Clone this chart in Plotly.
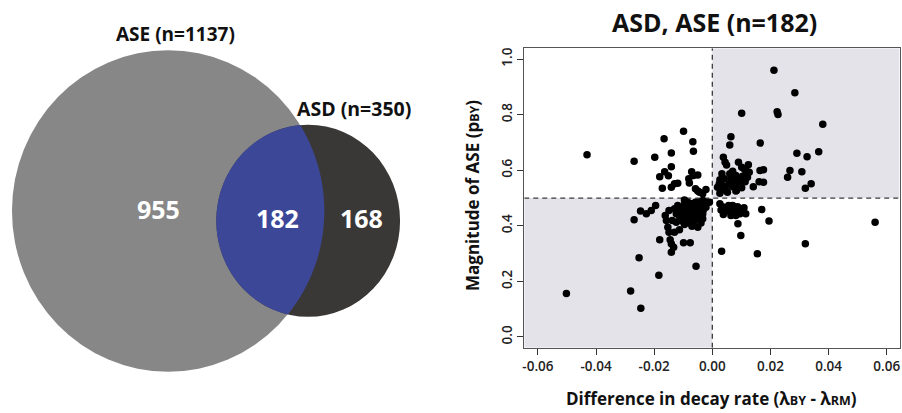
import numpy as np
import plotly.graph_objects as go

# ---------------- DATA ----------------
venn_set_labels = ["ASE (n=1137)", "ASD (n=350)"]
venn_region_counts = [955, 182, 168]   # ASE only, both, ASD only

scatter_title = "ASD, ASE (n=182)"
x_tick_vals = [-0.06, -0.04, -0.02, 0.00, 0.02, 0.04, 0.06]
x_tick_text = ["-0.06", "-0.04", "-0.02", "0.00", "0.02", "0.04", "0.06"]
y_tick_vals = [0.0, 0.2, 0.4, 0.6, 0.8, 1.0]
y_tick_text = ["0.0", "0.2", "0.4", "0.6", "0.8", "1.0"]

decay_diff = [
    0.0212, 0.0284, 0.0101, 0.0223, 0.0226, 0.0380, 0.0064, 0.0165, 0.0060, 0.0366,
    0.0291, 0.0326, 0.0038, 0.0044, 0.0049, 0.0090, 0.0124, 0.0101, 0.0115, 0.0164,
    0.0176, 0.0267, 0.0259, 0.0033, 0.0026, 0.0041, 0.0024, 0.0038, 0.0033, 0.0047,
    0.0070, 0.0081, 0.0064, 0.0075, 0.0090, 0.0104, 0.0113, 0.0092, 0.0070, 0.0083,
    0.0101, 0.0058, 0.0141, 0.0161, 0.0176, 0.0320, 0.0340, 0.0308, 0.0127, 0.0109,
    0.0121, 0.0052, 0.0081, 0.0026,
    0.0026, 0.0035, 0.0041, 0.0038, 0.0052, 0.0070, 0.0079, 0.0087, 0.0098, 0.0090,
    0.0104, 0.0115, 0.0075, 0.0064, 0.0070, 0.0170, 0.0195, 0.0088, 0.0098, 0.0032,
    0.0155, 0.0320, 0.0560, 0.0030,
    -0.0099, -0.0166, -0.0067, -0.0065, -0.0141, -0.0269, -0.0198, -0.0141, -0.0164, -0.0181,
    -0.0151, -0.0071, -0.0065, -0.0050, -0.0130, -0.0119, -0.0141, -0.0172, -0.0079, -0.0058,
    -0.0050, -0.0044, -0.0022, -0.0431,
    -0.0022, -0.0195, -0.0210, -0.0227, -0.0247, -0.0269, -0.0162, -0.0158, -0.0138, -0.0153,
    -0.0149, -0.0130, -0.0113, -0.0181, -0.0145, -0.0141, -0.0133, -0.0141, -0.0099, -0.0076,
    -0.0252, -0.0056, -0.0184, -0.0281, -0.0502, -0.0246, -0.0033, -0.0027, -0.0035, -0.0039,
    -0.0033, -0.0039, -0.0010,
    -0.0119, -0.0107, -0.0096, -0.0084, -0.0073, -0.0062, -0.0050, -0.0067, -0.0081, -0.0101,
    -0.0113, -0.0090, -0.0073, -0.0056, -0.0044, -0.0062, -0.0079, -0.0096, -0.0070, -0.0050,
    -0.0033, -0.0047, -0.0113, -0.0096, -0.0084, -0.0124, -0.0130, -0.0124, -0.0031, -0.0058,
    -0.0088, -0.0104, -0.0048, -0.0022, -0.0149,
    0.0060, 0.0095, 0.0121, 0.0018,
    0.0056, 0.0095, 0.0081, 0.0109, 0.0044,
    -0.0081, -0.0033,
]
ase_magnitude = [
    0.960, 0.879, 0.805, 0.811, 0.801, 0.766, 0.721, 0.698, 0.691, 0.667,
    0.661, 0.649, 0.647, 0.629, 0.619, 0.629, 0.620, 0.611, 0.599, 0.599,
    0.602, 0.599, 0.575, 0.587, 0.566, 0.569, 0.551, 0.544, 0.529, 0.529,
    0.596, 0.581, 0.569, 0.560, 0.569, 0.578, 0.559, 0.549, 0.541, 0.527,
    0.537, 0.551, 0.541, 0.559, 0.557, 0.535, 0.551, 0.595, 0.593, 0.605,
    0.575, 0.521, 0.525, 0.517,
    0.479, 0.469, 0.461, 0.441, 0.453, 0.473, 0.465, 0.469, 0.461, 0.453,
    0.453, 0.443, 0.443, 0.437, 0.455, 0.459, 0.417, 0.407, 0.365, 0.308,
    0.299, 0.335, 0.413, 0.457,
    0.740, 0.713, 0.703, 0.668, 0.662, 0.632, 0.647, 0.613, 0.595, 0.577,
    0.580, 0.595, 0.581, 0.583, 0.551, 0.553, 0.539, 0.535, 0.554, 0.533,
    0.525, 0.521, 0.531, 0.656,
    0.485, 0.473, 0.455, 0.443, 0.453, 0.422, 0.437, 0.419, 0.419, 0.395,
    0.377, 0.377, 0.386, 0.350, 0.350, 0.335, 0.323, 0.305, 0.339, 0.339,
    0.285, 0.254, 0.222, 0.165, 0.156, 0.103, 0.491, 0.477, 0.461, 0.443,
    0.425, 0.410, 0.485,
    0.473, 0.461, 0.477, 0.467, 0.479, 0.469, 0.461, 0.453, 0.443, 0.443,
    0.434, 0.425, 0.434, 0.437, 0.425, 0.417, 0.410, 0.405, 0.398, 0.395,
    0.443, 0.485, 0.453, 0.493, 0.485, 0.443, 0.461, 0.413, 0.457, 0.485,
    0.455, 0.417, 0.477, 0.467, 0.455,
    0.587, 0.557, 0.587, 0.539,
    0.473, 0.443, 0.437, 0.465, 0.453,
    0.569, 0.515,
]

# ---------------- STYLE / LAYOUT ----------------
W, H = 902, 413
FONT = "Open Sans"
col_ase = "#878787"
col_asd = "#3a3837"
col_both = "#3c4798"
col_shade = "#e4e3ea"

# Venn geometry in pixel space of the left panel
big = dict(cx=166.7, cy=210.5, rx=156.7, ry=161.2)
small = dict(cx=307.2, cy=220.3, rx=92.2, ry=96.3)


def ray_hit(e, p0, d):
    ox, oy = (p0[0] - e["cx"]) / e["rx"], (p0[1] - e["cy"]) / e["ry"]
    dx, dy = d[0] / e["rx"], d[1] / e["ry"]
    a = dx * dx + dy * dy
    b = 2 * (ox * dx + oy * dy)
    c = ox * ox + oy * oy - 1
    return (-b + np.sqrt(b * b - 4 * a * c)) / (2 * a)


p0 = (270.0, 218.0)
angs = np.linspace(0, 2 * np.pi, 361)[:-1]
pts = []
for a in angs:
    d = (np.cos(a), np.sin(a))
    t = min(ray_hit(big, p0, d), ray_hit(small, p0, d))
    pts.append((p0[0] + t * d[0], p0[1] + t * d[1]))
lens_path = "M " + " L ".join(f"{x:.2f},{y:.2f}" for x, y in pts) + " Z"

xr = [-0.0647, 0.0644]
yr = [-0.0395, 1.0395]

fig = go.Figure()

fig.add_trace(go.Scatter(
    x=decay_diff, y=ase_magnitude, mode="markers",
    marker=dict(color="black", size=7.5, line=dict(width=0)),
    xaxis="x", yaxis="y", showlegend=False, hoverinfo="x+y",
))
# invisible trace for venn axes
fig.add_trace(go.Scatter(x=[0, W / 2], y=[0, H], mode="markers",
                         marker=dict(opacity=0), xaxis="x2", yaxis="y2",
                         showlegend=False, hoverinfo="skip"))

shapes = []
# quadrant shading
shapes.append(dict(type="rect", xref="x", yref="y", x0=xr[0], x1=0, y0=yr[0], y1=0.5,
                   fillcolor=col_shade, line=dict(width=0), layer="below"))
shapes.append(dict(type="rect", xref="x", yref="y", x0=0, x1=xr[1], y0=0.5, y1=yr[1],
                   fillcolor=col_shade, line=dict(width=0), layer="below"))
# dashed guides
shapes.append(dict(type="line", xref="x", yref="y", x0=0, x1=0, y0=yr[0], y1=yr[1],
                   line=dict(color="#3a3a3a", width=1.3, dash="5px,4px"), layer="below"))
shapes.append(dict(type="line", xref="x", yref="y", x0=xr[0], x1=xr[1], y0=0.5, y1=0.5,
                   line=dict(color="#3a3a3a", width=1.3, dash="5px,4px"), layer="below"))
# venn
for e, c in ((big, col_ase), (small, col_asd)):
    shapes.append(dict(type="circle", xref="x2", yref="y2",
                       x0=e["cx"] - e["rx"], x1=e["cx"] + e["rx"],
                       y0=e["cy"] - e["ry"], y1=e["cy"] + e["ry"],
                       fillcolor=c, line=dict(width=0), layer="above"))
shapes.append(dict(type="path", xref="x2", yref="y2", path=lens_path,
                   fillcolor=col_both, line=dict(width=0), layer="above"))

annotations = [
    dict(text=f"<b>{venn_set_labels[0]}</b>", x=174, y=33, xref="x2", yref="y2",
         showarrow=False, xanchor="center", yanchor="middle",
         font=dict(size=19, color="#111111", family=FONT)),
    dict(text=f"<b>{venn_set_labels[1]}</b>", x=353, y=108, xref="x2", yref="y2",
         showarrow=False, xanchor="center", yanchor="middle",
         font=dict(size=19.5, color="#111111", family=FONT)),
    dict(text=f"<b>{venn_region_counts[0]}</b>", x=157, y=209, xref="x2", yref="y2",
         showarrow=False, xanchor="center", yanchor="middle",
         font=dict(size=25, color="white", family=FONT)),
    dict(text=f"<b>{venn_region_counts[1]}</b>", x=276, y=218, xref="x2", yref="y2",
         showarrow=False, xanchor="center", yanchor="middle",
         font=dict(size=25, color="white", family=FONT)),
    dict(text=f"<b>{venn_region_counts[2]}</b>", x=361, y=218, xref="x2", yref="y2",
         showarrow=False, xanchor="center", yanchor="middle",
         font=dict(size=25, color="white", family=FONT)),
    dict(text=f"<b>{scatter_title}</b>", x=715 / W, y=(H - 21) / H, xref="paper", yref="paper",
         showarrow=False, xanchor="center", yanchor="middle",
         font=dict(size=25, color="#111111", family=FONT)),
    dict(text="<b>Difference in decay rate (λ<span style='font-size:12.5px'>BY</span> - λ<span style='font-size:12.5px'>RM</span>)</b>",
         x=712 / W, y=(H - 398) / H, xref="paper", yref="paper", showarrow=False,
         xanchor="center", yanchor="middle", font=dict(size=17, color="#111111", family=FONT)),
    dict(text="<b>Magnitude of ASE (p<span style='font-size:12.5px'>BY</span>)</b>",
         x=472 / W, y=(H - 195) / H, xref="paper", yref="paper", showarrow=False,
         xanchor="center", yanchor="middle", textangle=-90,
         font=dict(size=17, color="#111111", family=FONT)),
]

tickfont = dict(size=13.5, color="#222222", family=FONT, weight=600)

fig.update_layout(
    width=W, height=H,
    margin=dict(l=0, r=0, t=0, b=0),
    paper_bgcolor="white", plot_bgcolor="white",
    shapes=shapes, annotations=annotations,
    showlegend=False,
    xaxis=dict(domain=[524 / W, 900.5 / W], range=xr, tickvals=x_tick_vals, ticktext=x_tick_text,
               ticks="outside", ticklen=6, tickcolor="#333333", tickwidth=1,
               showline=True, linecolor="#555555", linewidth=1, mirror=True,
               showgrid=False, zeroline=False, tickfont=tickfont, anchor="y"),
    yaxis=dict(domain=[(H - 347.7) / H, (H - 47.3) / H], range=yr, tickvals=y_tick_vals,
               ticktext=y_tick_text, tickangle=-90,
               ticks="outside", ticklen=6, tickcolor="#333333", tickwidth=1,
               showline=True, linecolor="#555555", linewidth=1, mirror=True,
               showgrid=False, zeroline=False, tickfont=tickfont, anchor="x"),
    xaxis2=dict(domain=[0, 450 / W], range=[0, 450], visible=False, fixedrange=True, anchor="y2"),
    yaxis2=dict(domain=[0, 1], range=[H, 0], visible=False, fixedrange=True, anchor="x2"),
)

fig.write_html("out.html")
